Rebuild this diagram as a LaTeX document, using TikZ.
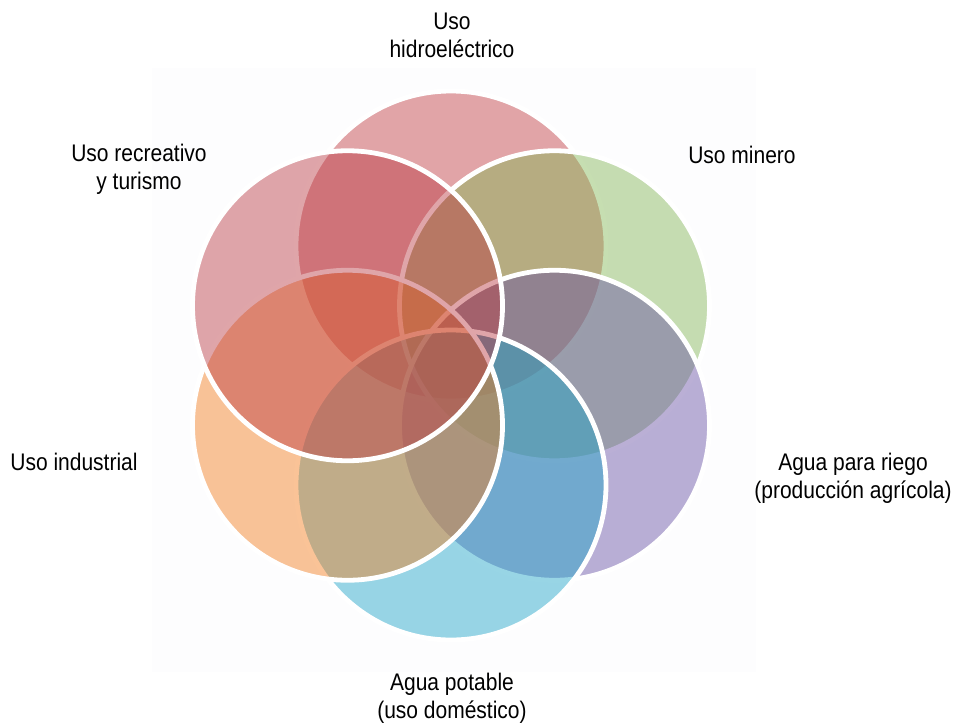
\documentclass[tikz,border=0pt]{standalone}
\usepackage{fontspec}
\setmainfont{Liberation Sans}[FakeStretch=0.875]
\definecolor{fa}{RGB}{191,57,62}
\definecolor{fb}{RGB}{130,182,84}
\definecolor{fc}{RGB}{102,79,164}
\definecolor{fd}{RGB}{28,164,199}
\definecolor{fe}{RGB}{244,124,26}
\definecolor{ff}{RGB}{186,57,66}
\definecolor{bgc}{RGB}{253,253,254}
\begin{document}
\begin{tikzpicture}[x=1pt,y=-1pt,
  venn/.style={circle, minimum size=310pt, inner sep=0pt, fill opacity=0.45, draw=white, draw opacity=1, line width=4.8pt},
  lbl/.style={align=center, font=\fontsize{24}{28}\selectfont, text=black, inner sep=0pt}]
\useasboundingbox (0,0) rectangle (955,723);
\fill[white] (0,0) rectangle (955,723);
\fill[bgc] (152,68) rectangle (756,672);
\node[venn, fill=fa] (c1) at (451,246) {};
\node[venn, fill=fb] (c2) at (554.5,305.75) {};
\node[venn, fill=fc] (c3) at (554.5,425.25) {};
\node[venn, fill=fd] (c4) at (451,485) {};
\node[venn, fill=fe] (c5) at (347.5,425.25) {};
\node[venn, fill=ff] (c6) at (347.5,305.75) {};
\node[lbl] (l1) at (452,35) {Uso\\hidroeléctrico};
\node[lbl] (l2) at (742,155) {Uso minero};
\node[lbl] (l3) at (853,478) {Agua para riego\\(producción agrícola)};
\node[lbl] (l4) at (452,698) {Agua potable\\(uso doméstico)};
\node[lbl] (l5) at (74,462) {Uso industrial};
\node[lbl] (l6) at (139,169) {Uso recreativo\\y turismo};
\end{tikzpicture}
\end{document}
